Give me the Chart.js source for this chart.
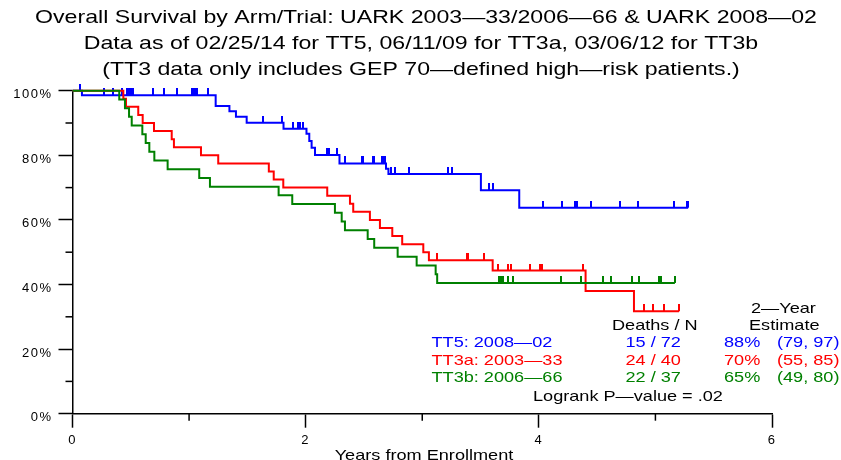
<!DOCTYPE html>
<html><head><meta charset="utf-8">
<script src="https://cdn.jsdelivr.net/npm/chart.js@4.4.1/dist/chart.umd.min.js"></script>
<style>html,body{margin:0;padding:0;background:#fff}canvas{display:block}</style>
</head><body>
<canvas id="c" width="841" height="460"></canvas>
<script>
// ---------- DATA ----------
const titleLines = [
  'Overall Survival by Arm/Trial: UARK 2003\u201433/2006\u201466 & UARK 2008\u201402',
  'Data as of 02/25/14 for TT5, 06/11/09 for TT3a, 03/06/12 for TT3b',
  '(TT3 data only includes GEP 70\u2014defined high\u2014risk patients.)'
];
const xAxisTitle = 'Years from Enrollment';
const xMajorTicks = [0, 2, 4, 6];
const xMinorTicks = [1, 3, 5];
const yMajorTicks = [0, 20, 40, 60, 80, 100];
const yMinorTicks = [10, 30, 50, 70, 90];

// TT5: 2008-02 (blue) event times (years) and survival (%) after each drop
const tt5Times = [0.081, 1.228, 1.346, 1.402, 1.494, 1.810, 2.007, 2.031, 2.051, 2.080, 2.290, 2.689, 2.710, 3.503, 3.832];
const tt5Surv  = [98.6, 95.3, 93.6, 91.9, 90.1, 88.2, 86.7, 84.4, 82.3, 80.1, 77.5, 75.8, 74.2, 69.2, 63.8];
const tt5Censor = [0.064, 0.273, 0.350, 0.422, 0.470, 0.485, 0.499, 0.521, 0.693, 0.787, 0.894, 1.022, 1.036, 1.051, 1.065, 1.165,
  1.636, 1.794, 1.894, 1.937, 1.955, 1.974, 2.180, 2.191, 2.202, 2.273, 2.337, 2.480, 2.494, 2.575, 2.588, 2.652, 2.666, 2.680,
  2.732, 2.766, 2.889, 3.223, 3.252, 3.575, 3.609, 4.033, 4.201, 4.310, 4.325, 4.444, 4.695, 4.852, 5.158, 5.268, 5.281];

// TT3a: 2003-33 (red)
const tt3aTimes = [0.436, 0.459, 0.564, 0.602, 0.699, 0.851, 0.870, 1.102, 1.250, 1.684, 1.726, 1.808, 2.185, 2.380, 2.408,
  2.551, 2.637, 2.743, 2.828, 3.009, 3.057, 3.604, 4.401, 4.816];
const tt3aSurv  = [97.5, 95.0, 92.5, 90.0, 87.5, 85.0, 82.5, 80.0, 77.5, 75.0, 72.5, 70.0, 67.5, 65.0, 62.5,
  60.0, 57.5, 55.0, 52.5, 50.0, 47.5, 44.3, 38.0, 31.7];
const tt3aCensor = [3.123, 3.381, 3.396, 3.527, 3.647, 3.738, 3.761, 3.924, 4.010, 4.030, 4.381, 4.901, 4.981, 5.075, 5.202];

// TT3b: 2006-66 (green)
const tt3bTimes = [0.401, 0.450, 0.485, 0.508, 0.599, 0.628, 0.659, 0.702, 0.816, 1.087, 1.179, 1.768, 1.885, 2.251, 2.309,
  2.337, 2.532, 2.588, 2.789, 2.952, 3.115, 3.128];
const tt3bSurv  = [97.3, 94.6, 91.9, 89.2, 86.5, 83.8, 81.1, 78.4, 75.7, 73.0, 70.3, 67.6, 64.9, 62.2, 59.5,
  56.8, 54.1, 51.4, 48.6, 45.9, 43.2, 40.5];
const tt3bCensor = [3.660, 3.675, 3.689, 3.732, 3.775, 4.187, 4.358, 4.547, 4.616, 4.796, 4.861, 5.030, 5.047, 5.167];

// summary table
const armLabels = ['TT5: 2008\u201402', 'TT3a: 2003\u201433', 'TT3b: 2006\u201466'];
const armDeaths = [15, 24, 22];
const armN = [72, 40, 37];
const arm2yr = [88, 70, 65];
const armCiLow = [79, 55, 49];
const armCiHigh = [97, 85, 80];
const logrankP = '.02';

// ---------- STYLE ----------
const COLORS = ['#0000ff', '#ff0000', '#008000'];
const FONT = '"Liberation Sans", Arial, Helvetica, sans-serif';
const SX = 1.25;

function survAt(times, surv, t) {
  let s = 100;
  for (let i = 0; i < times.length; i++) { if (times[i] <= t) s = surv[i]; }
  return s;
}
function curve(times, surv, end) {
  const pts = [{x: 0, y: 100}];
  times.forEach((t, i) => pts.push({x: t, y: surv[i]}));
  pts.push({x: end, y: surv[surv.length - 1]});
  return pts;
}
function censorPts(times, surv, cens) {
  return cens.map(t => ({x: t, y: survAt(times, surv, t)}));
}
function tickImg(color) {
  const c = document.createElement('canvas');
  c.width = 2; c.height = 14;
  const g = c.getContext('2d');
  g.fillStyle = color; g.fillRect(0, 0, 2, 7);
  return c;
}
const arms = [
  {times: tt5Times, surv: tt5Surv, cens: tt5Censor},
  {times: tt3aTimes, surv: tt3aSurv, cens: tt3aCensor},
  {times: tt3bTimes, surv: tt3bSurv, cens: tt3bCensor}
];
const datasets = [];
// green on top, then red, then blue
[2, 1, 0].forEach((k, idx) => {
  const a = arms[k];
  const end = Math.max(a.cens[a.cens.length - 1], a.times[a.times.length - 1]);
  datasets.push({
    label: armLabels[k], data: curve(a.times, a.surv, end), showLine: true, stepped: true,
    borderColor: COLORS[k], borderWidth: 2, pointRadius: 0, fill: false, clip: false, order: idx * 2 + 1
  });
  datasets.push({
    label: armLabels[k] + ' censored', data: censorPts(a.times, a.surv, a.cens), showLine: false,
    pointStyle: tickImg(COLORS[k]), pointRadius: 4, clip: false, order: idx * 2
  });
});

function sText(ctx, str, x, y, align, color, size) {
  ctx.save();
  ctx.font = size + 'px ' + FONT;
  ctx.fillStyle = color;
  ctx.textBaseline = 'middle';
  ctx.textAlign = align;
  ctx.translate(x, y);
  ctx.scale(SX, 1);
  ctx.fillText(str, 0, 0);
  ctx.restore();
}

const extras = {
  id: 'extras',
  beforeDraw(chart) { chart.ctx.letterSpacing = '1.5px'; },
  beforeDatasetsDraw(chart) { chart.ctx.letterSpacing = '0px'; },
  afterDraw(chart) {
    const ctx = chart.ctx, xs = chart.scales.x, ys = chart.scales.y;
    ctx.save();
    ctx.letterSpacing = '0px';
    ctx.strokeStyle = '#000'; ctx.lineWidth = 1.5;
    xMinorTicks.forEach(v => {
      const px = xs.getPixelForValue(v);
      ctx.beginPath(); ctx.moveTo(px, xs.top); ctx.lineTo(px, xs.top + 7); ctx.stroke();
    });
    yMinorTicks.forEach(v => {
      const py = ys.getPixelForValue(v);
      ctx.beginPath(); ctx.moveTo(ys.right - 7, py); ctx.lineTo(ys.right, py); ctx.stroke();
    });
    // titles
    const ty = [18, 44, 70];
    const tx = [426, 421, 421];
    titleLines.forEach((t, i) => sText(ctx, t, tx[i], ty[i], 'center', '#000', 18.5));
    sText(ctx, xAxisTitle, 424, 456, 'center', '#000', 14.5);
    // table
    const fs = 14.5;
    sText(ctx, '2\u2014Year', 751, 309, 'left', '#000', fs);
    sText(ctx, 'Deaths / N', 612, 326, 'left', '#000', fs);
    sText(ctx, 'Estimate', 749, 326, 'left', '#000', fs);
    const rowY = [343.3, 361, 378.3];
    armLabels.forEach((lab, i) => {
      const c = COLORS[i];
      sText(ctx, lab, 431.5, rowY[i], 'left', c, fs);
      sText(ctx, armDeaths[i] + ' / ' + armN[i], 625.5, rowY[i], 'left', c, fs);
      sText(ctx, arm2yr[i] + '%', 724, rowY[i], 'left', c, fs);
      sText(ctx, '(' + armCiLow[i] + ', ' + armCiHigh[i] + ')', 777, rowY[i], 'left', c, fs);
    });
    sText(ctx, 'Logrank P\u2014value = ' + logrankP, 533, 396.7, 'left', '#000', fs);
    ctx.restore();
  }
};

Chart.defaults.font.family = FONT;
Chart.defaults.color = '#000';
new Chart(document.getElementById('c'), {
  type: 'scatter',
  data: {datasets},
  plugins: [extras],
  options: {
    responsive: false, animation: false, devicePixelRatio: 1,
    layout: {padding: {left: 0, right: 69, top: 90.7, bottom: 0}},
    plugins: {legend: {display: false}, title: {display: false}, tooltip: {enabled: false}},
    scales: {
      x: {
        type: 'linear', min: 0, max: 6,
        afterBuildTicks: s => { s.ticks = xMajorTicks.map(v => ({value: v})); },
        afterFit: s => { s.height = 46.3; },
        ticks: {color: '#000', font: {size: 13}, padding: 5, callback: v => String(v)},
        grid: {drawOnChartArea: false, drawTicks: true, tickLength: 14, tickColor: '#000', tickWidth: 1.5},
        border: {display: true, color: '#000', width: 1.5}
      },
      y: {
        min: 0, max: 100,
        afterBuildTicks: s => { s.ticks = yMajorTicks.map(v => ({value: v})); },
        afterFit: s => { s.width = 72.5; },
        ticks: {color: '#000', font: {size: 13}, padding: 6, labelOffset: 4, callback: v => v + '%'},
        grid: {drawOnChartArea: false, drawTicks: true, tickLength: 14, tickColor: '#000', tickWidth: 1.5},
        border: {display: true, color: '#000', width: 1.5}
      }
    }
  }
});
</script>
</body></html>
